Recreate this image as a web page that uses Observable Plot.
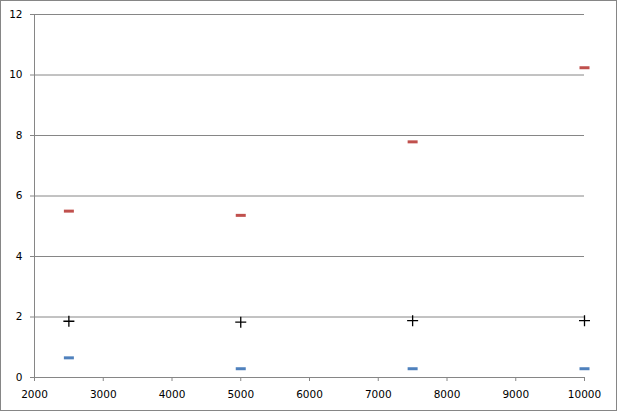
<!DOCTYPE html>
<html>
<head>
<meta charset="utf-8">
<script src="https://cdn.jsdelivr.net/npm/d3@7"></script>
<script src="https://cdn.jsdelivr.net/npm/@observablehq/plot@0.6"></script>
<style>
  html, body { margin: 0; padding: 0; background: white; }
</style>
</head>
<body>
<div id="chart"></div>
<script>
const xValues = [2500, 5000, 7500, 10000];
const redValues = [5.50, 5.36, 7.79, 10.24];
const blueValues = [0.65, 0.29, 0.29, 0.29];
const blackValues = [1.86, 1.83, 1.88, 1.88];
const yTicks = [0, 2, 4, 6, 8, 10, 12];
const xTicks = [2000, 3000, 4000, 5000, 6000, 7000, 8000, 9000, 10000];

const toRows = (vals) => xValues.map((x, i) => ({x, y: vals[i]}));

const dash = { draw(context) { context.rect(-5, -1.5, 10, 3); } };
const plus = { draw(context) {
  context.moveTo(-5.5, 0); context.lineTo(5.5, 0);
  context.moveTo(0, -5.5); context.lineTo(0, 5.5);
} };

const grid = "#868686";

const chart = Plot.plot({
  width: 617,
  height: 412,
  marginLeft: 34,
  marginRight: 33,
  marginTop: 14,
  marginBottom: 35,
  x: {domain: [2000, 10000]},
  y: {domain: [0, 12]},
  style: {fontFamily: "DejaVu Sans", fontSize: "10.5px", color: "black", background: "white"},
  marks: [
    Plot.ruleY(yTicks.slice(1), {stroke: grid, strokeOpacity: 1}),
    Plot.axisY(yTicks, {tickSize: 4, tickPadding: 8, stroke: grid, strokeOpacity: 1, label: null, fill: "black", tickFormat: d3.format("d")}),
    Plot.axisX(xTicks, {tickSize: 4, tickPadding: 9, stroke: grid, strokeOpacity: 1, label: null, fill: "black", tickFormat: d3.format("d")}),
    Plot.ruleX([2000], {stroke: grid}),
    Plot.ruleY([0], {stroke: grid}),
    Plot.dot(toRows(redValues), {x: "x", y: "y", symbol: dash, fill: "#C0504D", stroke: null, r: 5}),
    Plot.dot(toRows(blueValues), {x: "x", y: "y", symbol: dash, fill: "#4F81BD", stroke: null, r: 5}),
    Plot.dot(toRows(blackValues), {x: "x", y: "y", symbol: plus, fill: "none", stroke: "black", strokeWidth: 1.3, r: 5})
  ]
});

d3.select(chart).append("rect")
  .attr("x", 0.5).attr("y", 0.5).attr("width", 616).attr("height", 410)
  .attr("fill", "none").attr("stroke", grid);

document.getElementById("chart").appendChild(chart);
</script>
</body>
</html>
